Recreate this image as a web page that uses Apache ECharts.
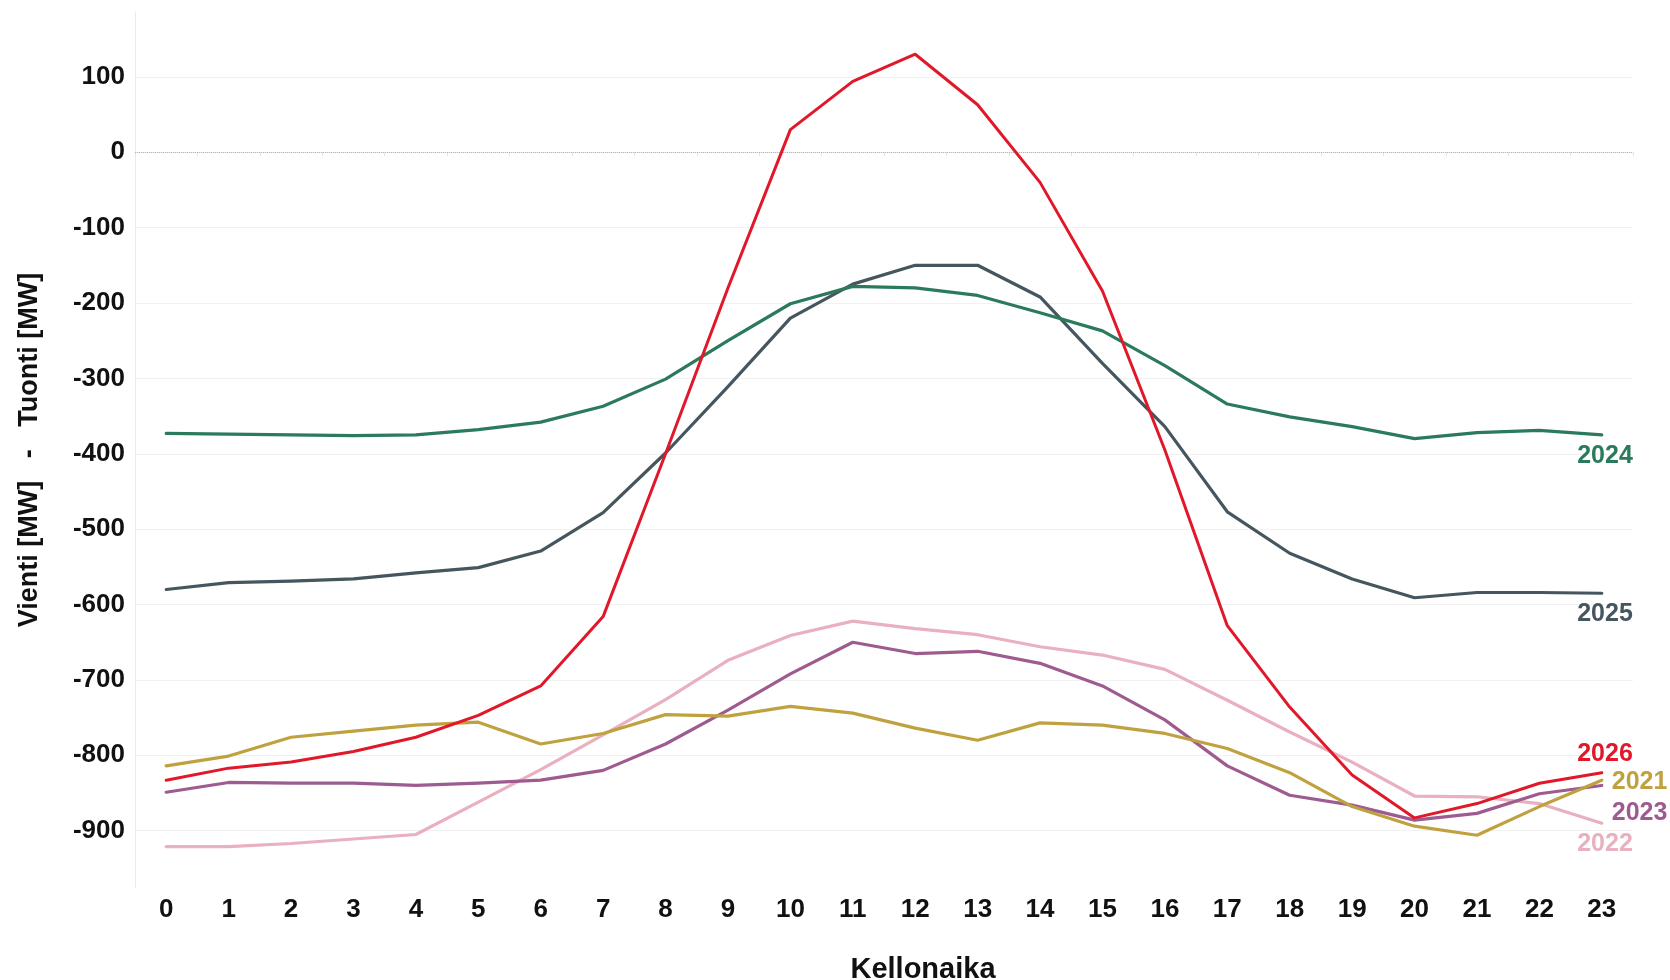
<!DOCTYPE html>
<html>
<head>
<meta charset="utf-8">
<script src="https://cdn.jsdelivr.net/npm/echarts@6/dist/echarts.min.js"></script>
<style>
html,body{margin:0;padding:0;background:#fff;}
#chart{width:1670px;height:980px;}
</style>
</head>
<body>
<div id="chart"></div>
<script>
// ---- data ----
const hours = ['0','1','2','3','4','5','6','7','8','9','10','11','12','13','14','15','16','17','18','19','20','21','22','23'];
const yTicks = [100, 0, -100, -200, -300, -400, -500, -600, -700, -800, -900];
const seriesNames = ['2022', '2023', '2021', '2025', '2024', '2026'];
const v2021 = [-814, -801, -776, -768, -760, -756, -785, -771, -746, -748, -735, -744, -764, -780, -757, -760, -771, -791, -823, -868, -894, -906, -868, -833];
const v2022 = [-921, -921, -917, -911, -905, -862, -819, -773, -726, -674, -641, -622, -632, -640, -656, -667, -686, -727, -769, -809, -854, -855, -864, -890];
const v2023 = [-849, -836, -837, -837, -840, -837, -833, -820, -785, -740, -692, -650, -665, -662, -678, -708, -753, -814, -853, -866, -886, -877, -851, -840];
const v2024 = [-373, -374, -375, -376, -375, -368, -358, -337, -301, -250, -201, -178, -180, -190, -213, -237, -283, -334, -351, -364, -380, -372, -369, -375];
const v2025 = [-580, -571, -569, -566, -558, -551, -529, -478, -399, -311, -220, -175, -150, -150, -192, -280, -364, -477, -532, -566, -591, -584, -584, -585];
const v2026 = [-833, -817, -809, -795, -776, -747, -708, -616, -400, -180, 30, 94, 130, 63, -40, -184, -395, -628, -736, -826, -883, -864, -837, -823];

// ---- style ----
const styles = {
  '2021': {color: '#bfa23f', width: 3.2, align: 'left',  off: [10, 2]},
  '2022': {color: '#e9b0bf', width: 3.2, align: 'right', off: [31, 21]},
  '2023': {color: '#9e5b8f', width: 3.2, align: 'left',  off: [10, 28]},
  '2024': {color: '#2b7a5b', width: 3.2, align: 'right', off: [31, 21]},
  '2025': {color: '#46565f', width: 3.2, align: 'right', off: [31, 21]},
  '2026': {color: '#e0182a', width: 3, align: 'right', off: [31, -19]}
};
const valuesByName = {'2021': v2021, '2022': v2022, '2023': v2023, '2024': v2024, '2025': v2025, '2026': v2026};
const FONT = 'Liberation Sans, Arial, sans-serif';

const series = seriesNames.map((name, idx) => {
  const vals = valuesByName[name];
  const st = styles[name];
  const last = vals.length - 1;
  const s = {
    name: name,
    type: 'line',
    data: vals,
    showSymbol: false,
    symbol: 'none',
    silent: true,
    z: 2 + idx,
    lineStyle: {color: st.color, width: st.width, cap: 'round', join: 'round'},
    itemStyle: {color: st.color},
    markPoint: {
      silent: true,
      symbol: 'circle',
      symbolSize: 1,
      itemStyle: {color: 'rgba(0,0,0,0)'},
      label: {
        show: true,
        position: 'inside',
        formatter: name,
        color: st.color,
        fontFamily: FONT,
        fontWeight: 'bold',
        fontSize: 25,
        align: st.align,
        verticalAlign: 'middle',
        offset: st.off
      },
      data: [{coord: [hours[last], vals[last]]}]
    }
  };
  if (idx === 0) {
    s.markLine = {
      silent: true,
      symbol: 'none',
      label: {show: false},
      lineStyle: {type: 'dotted', color: '#b5b5b5', width: 1},
      data: [{yAxis: 0}],
      animation: false
    };
  }
  return s;
});

const chart = echarts.init(document.getElementById('chart'), null, {renderer: 'canvas'});
chart.setOption({
  animation: false,
  backgroundColor: '#ffffff',
  grid: {left: 135, right: 37, top: 12, bottom: 92, containLabel: false, outerBoundsMode: 'none'},
  xAxis: {
    type: 'category',
    data: hours,
    boundaryGap: true,
    name: 'Kellonaika',
    nameLocation: 'middle',
    nameGap: 67,
    nameTextStyle: {fontFamily: FONT, fontWeight: 'bold', fontSize: 29, color: '#111', padding: [0, 0, 0, 78]},
    axisLine: {show: true, lineStyle: {color: '#ebebeb', width: 1}},
    axisTick: {show: true, alignWithLabel: false, length: 4, lineStyle: {color: '#e4e4e4'}},
    axisLabel: {fontFamily: FONT, fontWeight: 'bold', fontSize: 26, color: '#111', margin: 9},
    splitLine: {show: false}
  },
  yAxis: {
    type: 'value',
    min: -976,
    max: 186,
    name: 'Vienti [MW]   -   Tuonti [MW]',
    nameLocation: 'middle',
    nameRotate: 90,
    nameGap: 92,
    nameTextStyle: {fontFamily: FONT, fontWeight: 'bold', fontSize: 27, color: '#111'},
    axisLine: {show: true, lineStyle: {color: '#ebebeb', width: 1}},
    axisTick: {show: false, customValues: yTicks},
    axisLabel: {customValues: yTicks, fontFamily: FONT, fontWeight: 'bold', fontSize: 26, color: '#111', margin: 10},
    splitLine: {show: true, lineStyle: {color: '#f1f1f1', width: 1}}
  },
  series: series
});
</script>
</body>
</html>
